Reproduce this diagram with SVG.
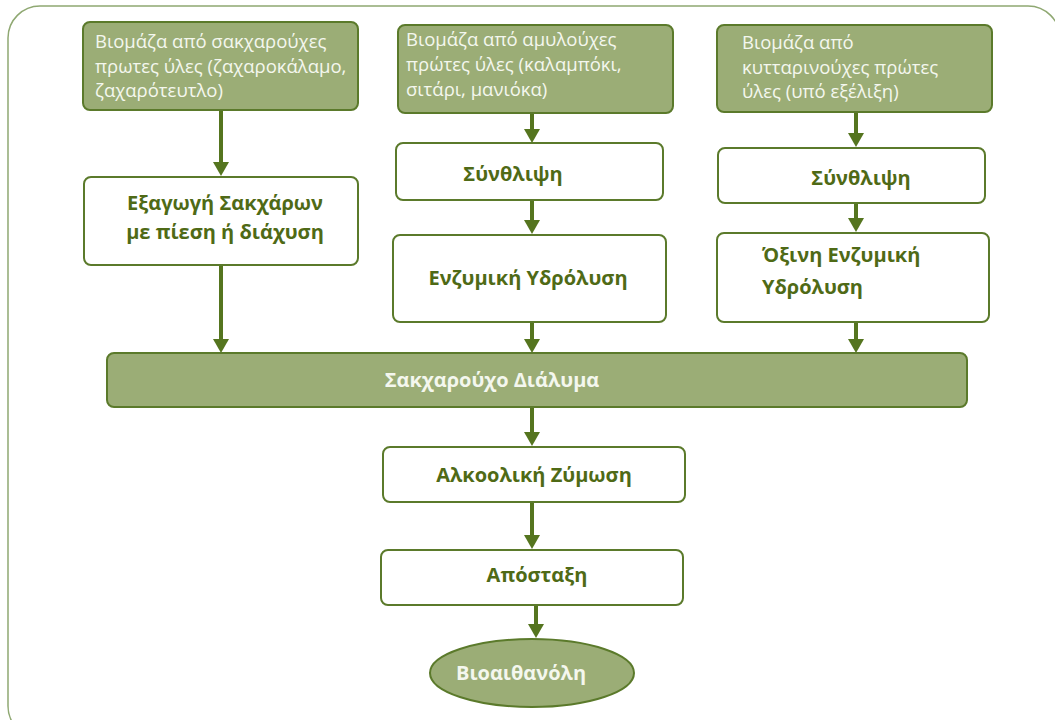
<svg xmlns="http://www.w3.org/2000/svg" width="1055" height="720" viewBox="0 0 1055 720">
  <style>
    .frame { fill: #ffffff; stroke: #8fa872; stroke-width: 1.5; }
    .src { fill: #9bad76; stroke: #5b7a2b; stroke-width: 2; }
    .step { fill: #ffffff; stroke: #5b7a2b; stroke-width: 2; }
    .srcText { font-family: "Open Sans", "Noto Sans", "DejaVu Sans", sans-serif; font-size: 18.5px; fill: #f4f7ee; }
    .stepText { font-family: "Open Sans", "Noto Sans", "DejaVu Sans", sans-serif; font-size: 20px; font-weight: bold; fill: #4f6a16; }
    .lightText { font-family: "Open Sans", "Noto Sans", "DejaVu Sans", sans-serif; font-size: 20px; font-weight: bold; fill: #f4f7ee; }
    .flow { stroke: #55751f; stroke-width: 4; fill: none; marker-end: url(#head); }
  </style>
  <defs>
    <marker id="head" markerUnits="userSpaceOnUse" viewBox="0 -8 14 16" markerWidth="14" markerHeight="16" refX="0" refY="0" orient="auto">
      <path d="M0,-8 L14,0 L0,8 z" fill="#55751f"/>
    </marker>
  </defs>

  <!-- outer frame -->
  <rect class="frame" x="8" y="6" width="1052" height="732" rx="32" ry="32"/>

  <!-- connectors -->
  <g id="connectors">
    <line class="flow" x1="221" y1="110" x2="221" y2="162"/>
    <line class="flow" x1="221" y1="265" x2="221" y2="339"/>
    <line class="flow" x1="532" y1="113" x2="532" y2="129"/>
    <line class="flow" x1="532" y1="200" x2="532" y2="220"/>
    <line class="flow" x1="532" y1="322" x2="532" y2="339"/>
    <line class="flow" x1="856" y1="112" x2="856" y2="133"/>
    <line class="flow" x1="856" y1="203" x2="856" y2="218"/>
    <line class="flow" x1="856" y1="322" x2="856" y2="339"/>
    <line class="flow" x1="532" y1="407" x2="532" y2="432"/>
    <line class="flow" x1="532" y1="502" x2="532" y2="535"/>
    <line class="flow" x1="536" y1="605" x2="536" y2="624"/>
  </g>

  <!-- sugar crops column -->
  <g id="src-sugar">
    <rect class="src" x="83" y="22" width="275" height="88" rx="7"/>
    <text class="srcText" x="95" y="48">Βιομάζα από σακχαρούχες</text>
    <text class="srcText" x="95" y="73">πρωτες ύλες (ζαχαροκάλαμο,</text>
    <text class="srcText" x="95" y="97">ζαχαρότευτλο)</text>
  </g>
  <g id="extraction">
    <rect class="step" x="84" y="177" width="274" height="88" rx="7"/>
    <text class="stepText" x="225" y="210" text-anchor="middle">Εξαγωγή Σακχάρων</text>
    <text class="stepText" x="225" y="239" text-anchor="middle">με πίεση ή διάχυση</text>
  </g>

  <!-- starch crops column -->
  <g id="src-starch">
    <rect class="src" x="398" y="25" width="275" height="88" rx="7"/>
    <text class="srcText" x="406" y="46">Βιομάζα από αμυλούχες</text>
    <text class="srcText" x="406" y="71">πρώτες ύλες (καλαμπόκι,</text>
    <text class="srcText" x="406" y="96">σιτάρι, μανιόκα)</text>
  </g>
  <g id="crush-starch">
    <rect class="step" x="396" y="143" width="267" height="57" rx="7"/>
    <text class="stepText" x="513" y="181" text-anchor="middle">Σύνθλιψη</text>
  </g>
  <g id="hydrolysis-starch">
    <rect class="step" x="393" y="235" width="273" height="87" rx="7"/>
    <text class="stepText" x="528" y="285" text-anchor="middle">Ενζυμική Υδρόλυση</text>
  </g>

  <!-- cellulosic crops column -->
  <g id="src-cellulose">
    <rect class="src" x="717" y="25" width="275" height="87" rx="7"/>
    <text class="srcText" x="742" y="49">Βιομάζα από</text>
    <text class="srcText" x="742" y="74">κυτταρινούχες πρώτες</text>
    <text class="srcText" x="742" y="98">ύλες (υπό εξέλιξη)</text>
  </g>
  <g id="crush-cellulose">
    <rect class="step" x="718" y="148" width="267" height="55" rx="7"/>
    <text class="stepText" x="861" y="185" text-anchor="middle">Σύνθλιψη</text>
  </g>
  <g id="hydrolysis-cellulose">
    <rect class="step" x="717" y="233" width="272" height="89" rx="7"/>
    <text class="stepText" x="762" y="262">Όξινη Ενζυμική</text>
    <text class="stepText" x="762" y="294">Υδρόλυση</text>
  </g>

  <!-- common path -->
  <g id="sugar-solution">
    <rect class="src" x="107" y="353" width="860" height="54" rx="7"/>
    <text class="lightText" x="492" y="387" text-anchor="middle">Σακχαρούχο Διάλυμα</text>
  </g>
  <g id="fermentation">
    <rect class="step" x="383" y="447" width="302" height="55" rx="7"/>
    <text class="stepText" x="534" y="482" text-anchor="middle">Αλκοολική Ζύμωση</text>
  </g>
  <g id="distillation">
    <rect class="step" x="381" y="550" width="302" height="55" rx="7"/>
    <text class="stepText" x="537" y="582" text-anchor="middle">Απόσταξη</text>
  </g>
  <g id="bioethanol">
    <ellipse class="src" cx="532" cy="673" rx="102" ry="34"/>
    <text class="lightText" x="521" y="680" text-anchor="middle">Βιοαιθανόλη</text>
  </g>
</svg>
